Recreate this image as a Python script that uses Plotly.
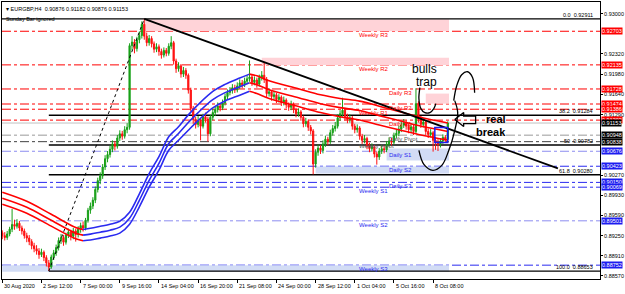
import plotly.graph_objects as go

# ---------------- data ----------------
bar_index = list(range(183))
opens = [0.8930,0.8925,0.8922,0.8928,0.8936,0.8944,0.8941,0.8946,0.8938,0.8933,
0.8925,0.8921,0.8915,0.8908,0.8903,0.8899,0.8893,0.8897,0.8888,0.8879,
0.8872,0.8889,0.8896,0.8905,0.8917,0.8922,0.8914,0.8926,0.8931,0.8924,
0.8933,0.8927,0.8936,0.8942,0.8938,0.8951,0.8968,0.8975,0.8985,0.9003,
0.9018,0.9026,0.9041,0.9055,0.9062,0.9071,0.9080,0.9076,0.9090,0.9097,
0.9093,0.9104,0.9108,0.9246,0.9252,0.9241,0.9256,0.9263,0.9282,0.9262,
0.9251,0.9258,0.9249,0.9240,0.9244,0.9236,0.9230,0.9238,0.9233,0.9245,
0.9251,0.9220,0.9207,0.9212,0.9198,0.9204,0.9196,0.9171,0.9140,0.9121,
0.9113,0.9120,0.9110,0.9126,0.9122,0.9097,0.9125,0.9133,0.9138,0.9144,
0.9141,0.9149,0.9160,0.9167,0.9170,0.9175,0.9171,0.9178,0.9183,0.9180,
0.9186,0.9190,0.9193,0.9184,0.9188,0.9181,0.9192,0.9196,0.9189,0.9165,
0.9168,0.9160,0.9163,0.9155,0.9159,0.9150,0.9154,0.9146,0.9142,0.9147,
0.9138,0.9131,0.9134,0.9125,0.9114,0.9118,0.9108,0.9102,0.9046,0.9066,
0.9073,0.9069,0.9080,0.9088,0.9084,0.9099,0.9106,0.9110,0.9124,0.9131,
0.9137,0.9126,0.9121,0.9124,0.9110,0.9104,0.9107,0.9093,0.9086,0.9089,
0.9077,0.9072,0.9075,0.9063,0.9058,0.9068,0.9072,0.9070,0.9080,0.9085,
0.9083,0.9094,0.9098,0.9105,0.9112,0.9115,0.9110,0.9104,0.9109,0.9101,
0.9148,0.9122,0.9113,0.9117,0.9101,0.9096,0.9099,0.9086,0.9082,0.9079,
0.9085,0.9091,0.90876]
closes = [0.8925,0.8922,0.8928,0.8936,0.8944,0.8941,0.8946,0.8938,0.8933,0.8925,
0.8921,0.8915,0.8908,0.8903,0.8899,0.8893,0.8897,0.8888,0.8879,0.8872,
0.8889,0.8896,0.8905,0.8917,0.8922,0.8914,0.8926,0.8931,0.8924,0.8933,
0.8927,0.8936,0.8942,0.8938,0.8951,0.8968,0.8975,0.8985,0.9003,0.9018,
0.9026,0.9041,0.9055,0.9062,0.9071,0.9080,0.9076,0.9090,0.9097,0.9093,
0.9104,0.9108,0.9246,0.9252,0.9241,0.9256,0.9263,0.9282,0.9262,0.9251,
0.9258,0.9249,0.9240,0.9244,0.9236,0.9230,0.9238,0.9233,0.9245,0.9251,
0.9220,0.9207,0.9212,0.9198,0.9204,0.9196,0.9171,0.9140,0.9121,0.9113,
0.9120,0.9110,0.9126,0.9122,0.9097,0.9125,0.9133,0.9138,0.9144,0.9141,
0.9149,0.9160,0.9167,0.9170,0.9175,0.9171,0.9178,0.9183,0.9180,0.9186,
0.9190,0.9193,0.9184,0.9188,0.9181,0.9192,0.9196,0.9189,0.9165,0.9168,
0.9160,0.9163,0.9155,0.9159,0.9150,0.9154,0.9146,0.9142,0.9147,0.9138,
0.9131,0.9134,0.9125,0.9114,0.9118,0.9108,0.9102,0.9046,0.9066,0.9073,
0.9069,0.9080,0.9088,0.9084,0.9099,0.9106,0.9110,0.9124,0.9131,0.9137,
0.9126,0.9121,0.9124,0.9110,0.9104,0.9107,0.9093,0.9086,0.9089,0.9077,
0.9072,0.9075,0.9063,0.9058,0.9068,0.9072,0.9070,0.9080,0.9085,0.9083,
0.9094,0.9098,0.9105,0.9112,0.9115,0.9110,0.9104,0.9109,0.9101,0.9148,
0.9122,0.9113,0.9117,0.9101,0.9096,0.9099,0.9086,0.9082,0.9079,0.9085,
0.9091,0.90876,0.91153]
highs = [0.8934,0.8931,0.8933,0.8940,0.8970,0.8952,0.8953,0.8950,0.8942,0.8937,
0.8930,0.8926,0.8919,0.8913,0.8909,0.8904,0.8903,0.8900,0.8892,0.8884,
0.8893,0.8901,0.8910,0.8922,0.8928,0.8926,0.8930,0.8937,0.8935,0.8938,
0.8937,0.8941,0.8947,0.8949,0.8955,0.8972,0.8981,0.8990,0.9008,0.9023,
0.9032,0.9046,0.9061,0.9068,0.9077,0.9086,0.9085,0.9095,0.9103,0.9102,
0.9110,0.9115,0.9250,0.9262,0.9257,0.9261,0.9270,0.9287,0.92911,0.9268,
0.9264,0.9262,0.9253,0.9250,0.9248,0.9241,0.9243,0.9242,0.9250,0.9262,
0.9254,0.9224,0.9218,0.9215,0.9210,0.9208,0.9199,0.9175,0.9144,0.9126,
0.9127,0.9124,0.9131,0.9133,0.9126,0.9129,0.9139,0.9143,0.9150,0.9149,
0.9155,0.9165,0.9172,0.9176,0.9181,0.9180,0.9184,0.9189,0.9188,0.9192,
0.9196,0.9221,0.9198,0.9194,0.9192,0.9197,0.9203,0.9218,0.9193,0.9174,
0.9171,0.9169,0.9166,0.9164,0.9162,0.9160,0.9157,0.9150,0.9153,0.9150,
0.9141,0.9140,0.9137,0.9128,0.9124,0.9121,0.9112,0.9105,0.9071,0.9079,
0.9078,0.9086,0.9094,0.9092,0.9104,0.9112,0.9117,0.9130,0.9137,0.9158,
0.9141,0.9131,0.9130,0.9127,0.9114,0.9113,0.9110,0.9097,0.9095,0.9092,
0.9082,0.9081,0.9078,0.9067,0.9073,0.9078,0.9077,0.9085,0.9091,0.9090,
0.9099,0.9104,0.9111,0.9118,0.9122,0.9120,0.9114,0.9115,0.9112,0.9174,
0.9152,0.9127,0.9123,0.9120,0.9106,0.9105,0.9102,0.9091,0.9088,0.9090,
0.9096,0.9095,0.91182]
lows = [0.8919,0.8917,0.8918,0.8924,0.8931,0.8935,0.8937,0.8933,0.8927,0.8920,
0.8914,0.8909,0.8902,0.8897,0.8893,0.8886,0.8889,0.8882,0.8873,0.88653,
0.8869,0.8884,0.8891,0.8900,0.8911,0.8908,0.8910,0.8921,0.8917,0.8919,
0.8915,0.8922,0.8930,0.8932,0.8934,0.8947,0.8962,0.8970,0.8980,0.8998,
0.9012,0.9021,0.9036,0.9049,0.9057,0.9066,0.9069,0.9072,0.9085,0.9087,
0.9089,0.9098,0.9104,0.9238,0.9233,0.9236,0.9250,0.9258,0.9256,0.9245,
0.9246,0.9243,0.9234,0.9235,0.9229,0.9224,0.9226,0.9228,0.9229,0.9240,
0.9214,0.9200,0.9202,0.9192,0.9193,0.9190,0.9165,0.9135,0.9114,0.9106,
0.9108,0.9086,0.9106,0.9116,0.9084,0.9093,0.9120,0.9127,0.9133,0.9135,
0.9137,0.9145,0.9155,0.9162,0.9165,0.9166,0.9167,0.9173,0.9174,0.9176,
0.9181,0.9185,0.9178,0.9179,0.9175,0.9177,0.9187,0.9183,0.9159,0.9160,
0.9153,0.9155,0.9149,0.9150,0.9144,0.9145,0.9140,0.9136,0.9137,0.9132,
0.9125,0.9126,0.9119,0.9108,0.9109,0.9102,0.9096,0.90286,0.9040,0.9060,
0.9063,0.9064,0.9075,0.9078,0.9080,0.9094,0.9101,0.9106,0.9119,0.9126,
0.9120,0.9115,0.9116,0.9104,0.9098,0.9099,0.9087,0.9080,0.9081,0.9071,
0.9066,0.9067,0.9057,0.9045,0.9053,0.9063,0.9064,0.9066,0.9075,0.9077,
0.9079,0.9089,0.9093,0.9100,0.9107,0.9104,0.9098,0.9099,0.9095,0.9097,
0.9116,0.9107,0.9108,0.9095,0.9090,0.9091,0.9067,0.9070,0.9068,0.9074,
0.9080,0.9082,0.90876]

time_tick_index = [0, 16, 32, 48, 64, 80, 96, 112, 128, 144, 160, 176]
time_tick_labels = ["30 Aug 2020", "2 Sep 12:00", "7 Sep 00:00", "9 Sep 16:00",
                    "14 Sep 04:00", "16 Sep 20:00", "21 Sep 08:00", "24 Sep 00:00",
                    "28 Sep 12:00", "1 Oct 04:00", "5 Oct 16:00", "8 Oct 08:00"]
price_ticks = [0.93000, 0.92320, 0.91980, 0.91640, 0.91290, 0.90270,
               0.89930, 0.89590, 0.89250, 0.88910, 0.88570]

pivot_names = ["Weekly R3", "Weekly R2", "Daily R3", "Daily R2", "Weekly R1", "Daily R1",
               "Daily Pivot", "Weekly Pivot", "Daily S1", "Daily S2", "Daily S3",
               "Weekly S1", "Weekly S2", "Weekly S3"]
pivot_values = [0.92703, 0.92135, 0.91728, 0.91474, 0.91386, 0.91202,
                0.90948, 0.90838, 0.90676, 0.90423, 0.90150,
                0.90069, 0.89501, 0.88752]

fib_levels = [0.0, 38.2, 50.0, 61.8, 100.0]
fib_level_text = ["0.0", "38.2", "50", "61.8", "100.0"]
fib_high, fib_low = 0.92911, 0.88653
fib_high_index, fib_low_index = 58, 19

trend_index = [58, 227]
trend_price = [0.92911, 0.90387]

# moving-average envelope (middle line and half width)
band_index = [0, 10, 20, 30, 33, 36, 40, 44, 48, 52, 56, 60, 64, 68, 72, 76, 80, 86, 91, 97,
              101, 104, 109, 121, 130, 138, 146, 154, 162, 170, 182]
band_mid = [0.89882, 0.89730, 0.89511, 0.89293, 0.89260, 0.89276, 0.89309, 0.89343, 0.89394,
            0.89545, 0.89848, 0.90185, 0.90471, 0.90807, 0.90976, 0.91161, 0.91329, 0.91548,
            0.91666, 0.91767, 0.91834, 0.91800, 0.91716, 0.91581, 0.91480, 0.91413, 0.91363,
            0.91278, 0.91194, 0.91110, 0.91009]
band_half = [0.00100, 0.00100, 0.00100, 0.00095, 0.00095, 0.00100, 0.00100, 0.00100, 0.00100,
             0.00100, 0.00110, 0.00115, 0.00115, 0.00115, 0.00115, 0.00130, 0.00135, 0.00140,
             0.00140, 0.00145, 0.00145, 0.00150, 0.00150, 0.00150, 0.00150, 0.00155, 0.00160,
             0.00160, 0.00155, 0.00150, 0.00145]

# shaded zones
zone_x0 = [58, 106, 173, 157, 128, 0]
zone_x1 = [182, 182, 182, 182, 182, 182]
zone_lo = [0.92703, 0.92135, 0.91480, 0.90521, 0.90302, 0.88640]
zone_hi = [0.92905, 0.92255, 0.91650, 0.90723, 0.90420, 0.88752]
zone_kind = ["r", "r", "r", "s", "s", "s"]

# ---------------- geometry helpers ----------------
X0_PX, BAR_PX = 1.3, 2.46
Y_REF_PX, PRICE_PER_PX = 18.0, 0.0001683
def px2data(xp, yp):
    return (xp - X0_PX) / BAR_PX, fib_high - (yp - Y_REF_PX) * PRICE_PER_PX

x_range = [(1 - X0_PX) / BAR_PX, (602 - X0_PX) / BAR_PX]
y_range = [fib_high - (279 - Y_REF_PX) * PRICE_PER_PX, fib_high + (Y_REF_PX - 1) * PRICE_PER_PX]

RED = "#ff0000"
BLUE = "#2a2af0"
LBLUE = "#8c8cf0"
FONT = "Liberation Sans, Arial, sans-serif"
SMALL = 5.5
LABEL = 6.0

fig = go.Figure()

for x0, x1, lo, hi, k in zip(zone_x0, zone_x1, zone_lo, zone_hi, zone_kind):
    fig.add_shape(type="rect", xref="x", yref="y", x0=x0, x1=x1 + 0.5, y0=lo, y1=hi,
                  fillcolor="#ffd3d8" if k == "r" else "#d2dcf5", line_width=0, layer="below")

def is_res(name):
    return name.split()[1].startswith("R")

for name, v in zip(pivot_names, pivot_values):
    if "Pivot" in name:
        lc = "#9a9a9a" if name.startswith("Daily") else "#404040"
        tcol, bg = "#555555", "#000000"
    elif is_res(name):
        lc, tcol, bg = RED, RED, "#ff0000"
    else:
        lc = LBLUE if v in (0.90676, 0.89501) else BLUE
        tcol, bg = BLUE, "#1c1cf0"
    fig.add_shape(type="line", xref="paper", yref="y", x0=0, x1=1, y0=v, y1=v,
                  line=dict(color=lc, width=1, dash="dashdot"), layer="below")
    lx = 157 if name.startswith("Daily") else 145
    fig.add_annotation(x=lx, y=v, xref="x", yref="y", text=name, showarrow=False,
                       xanchor="left", yanchor="top", yshift=1,
                       font=dict(size=LABEL, color=tcol, family=FONT))
    fig.add_annotation(x=1, y=v, xref="paper", yref="y", text=f"{v:.5f}", showarrow=False,
                       xanchor="left", yanchor="middle", xshift=1, bgcolor=bg, borderpad=0,
                       font=dict(size=SMALL, color="white", family=FONT))

bid = closes[-1]
fig.add_shape(type="line", xref="paper", yref="y", x0=0, x1=1, y0=bid, y1=bid,
              line=dict(color="#c0c0c0", width=1), layer="below")
fig.add_annotation(x=1, y=bid, xref="paper", yref="y", text=f"{bid:.5f}", showarrow=False,
                   xanchor="left", yanchor="middle", xshift=1, bgcolor="#000000", borderpad=0,
                   font=dict(size=SMALL, color="white", family=FONT))

for lvl, lt in zip(fib_levels, fib_level_text):
    v = fib_high - (fib_high - fib_low) * lvl / 100
    fig.add_shape(type="line", xref="x", yref="y", x0=fib_low_index if lvl > 0 else x_range[0],
                  x1=x_range[1], y0=v, y1=v, line=dict(color="#000000", width=1.3), layer="below")
    fig.add_annotation(x=242.0, y=v, xref="x", yref="y", text=f"{lt}  {v:.5f}",
                       showarrow=False, xanchor="right", yanchor="bottom", yshift=-1,
                       font=dict(size=SMALL, color="#000000", family=FONT))
fig.add_trace(go.Scatter(x=[fib_low_index, fib_high_index], y=[fib_low, fib_high], mode="lines",
                         line=dict(color="#000000", width=1, dash="dot"), hoverinfo="skip"))

segments = [(0, 4, RED), (4, 20, BLUE), (20, len(band_index) - 1, RED)]
for a, b, col in segments:
    xs = band_index[a:b + 1]
    for sgn in (-1, 0, 1):
        ys = [m + sgn * h for m, h in zip(band_mid[a:b + 1], band_half[a:b + 1])]
        fig.add_trace(go.Scatter(x=xs, y=ys, mode="lines", line=dict(color=col, width=1.6, shape="spline"),
                                 hoverinfo="skip"))

fig.add_trace(go.Candlestick(x=bar_index, open=opens, high=highs, low=lows, close=closes,
                             increasing=dict(line=dict(color="#18a018", width=1), fillcolor="#18a018"),
                             decreasing=dict(line=dict(color="#ff1010", width=1), fillcolor="#ff1010"),
                             whiskerwidth=0))

fig.add_trace(go.Scatter(x=trend_index, y=trend_price, mode="lines",
                         line=dict(color="#000000", width=1.8), hoverinfo="skip"))

bx0, by0 = px2data(436, 127)
bx1, by1 = px2data(449, 142)
fig.add_shape(type="rect", xref="x", yref="y", x0=bx0, x1=bx1, y0=by1, y1=by0,
              line=dict(color="#1c1cf0", width=1.5))

# hand drawn strokes (pixel coordinates of the drawing)
strokes = [
    [(421, 87), (420, 98), (422, 108), (426, 112), (431, 112), (435, 108), (437, 103)],
    [(455, 100), (458, 85), (463, 74), (469, 71), (474, 77), (476, 92)],
    [(456, 100), (459, 112), (456, 130), (450, 150), (443, 165), (434, 170), (425, 164), (420, 150)],
]
for s in strokes:
    pts = [px2data(a, b) for a, b in s]
    fig.add_trace(go.Scatter(x=[p[0] for p in pts], y=[p[1] for p in pts], mode="lines",
                             line=dict(color="#000000", width=1.3, shape="spline"), hoverinfo="skip"))

arrow = [(456, 119), (465, 112), (465, 115.5), (477, 115.5), (477, 123), (465, 123), (465, 126), (456, 119)]
pts = [px2data(a, b) for a, b in arrow]
fig.add_trace(go.Scatter(x=[p[0] for p in pts], y=[p[1] for p in pts], mode="lines",
                         line=dict(color="#000000", width=1.3), hoverinfo="skip"))

for txt, (xp, yp), bold in [("bulls", (426, 68), False), ("trap", (428, 81), False),
                            ("real", (497, 118), True), ("break", (492, 131), True)]:
    xx, yy = px2data(xp, yp)
    fig.add_annotation(x=xx, y=yy, xref="x", yref="y", text=f"<b>{txt}</b>" if bold else txt,
                       showarrow=False, font=dict(size=12 if not bold else 11, color="#000000", family=FONT))

fig.add_annotation(x=0.003, y=1, xref="paper", yref="paper", yshift=-2,
                   text="▾ EURGBP,H4  0.90876 0.91182 0.90876 0.91153",
                   showarrow=False, xanchor="left", yanchor="top", font=dict(size=SMALL, color="#000000", family=FONT))
fig.add_annotation(x=0.003, y=1, xref="paper", yref="paper", yshift=-12, text="Sunday Bar ignored",
                   showarrow=False, xanchor="left", yanchor="top", font=dict(size=SMALL, color="#000000", family=FONT))

for i, t in zip(time_tick_index, time_tick_labels):
    fig.add_annotation(x=i, y=0, xref="x", yref="paper", text=t, showarrow=False, xanchor="left",
                       yanchor="top", yshift=-2, xshift=0, font=dict(size=SMALL, color="#000000", family=FONT))

fig.update_layout(
    width=625, height=294, margin=dict(l=1, r=23, t=1, b=15),
    plot_bgcolor="white", paper_bgcolor="white", showlegend=False,
    xaxis=dict(range=x_range, showgrid=False, zeroline=False, rangeslider=dict(visible=False),
               tickvals=time_tick_index, ticktext=[""] * len(time_tick_index), ticks="outside",
               ticklen=3, tickcolor="#000000", showline=True, mirror=True, linecolor="#000000", linewidth=1),
    yaxis=dict(range=y_range, side="right", showgrid=False, zeroline=False,
               tickvals=price_ticks, ticktext=[f"{p:.5f}" for p in price_ticks], ticks="outside",
               ticklen=2, tickcolor="#000000", tickfont=dict(size=SMALL, color="#000000", family=FONT),
               showline=True, mirror=True, linecolor="#000000", linewidth=1),
)
fig.write_html("out.html")
